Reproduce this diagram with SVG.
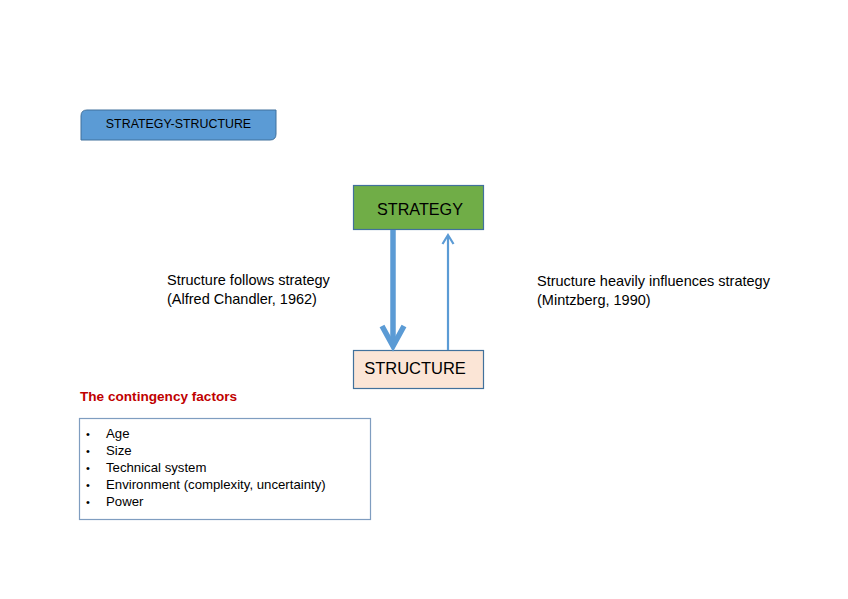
<svg xmlns="http://www.w3.org/2000/svg" width="848" height="599" viewBox="0 0 848 599">
<style>
text{font-family:"Liberation Sans",Arial,sans-serif;fill:#000}
.lbl{font-size:14.5px}
.li{font-size:13.2px}
.box{stroke:#41719C;stroke-width:1.2}
</style>
<rect width="848" height="599" fill="#fff"/>
<g id="title">
<path d="M87,110 H276 V134 Q276,140 270,140 H81 V116 Q81,110 87,110 Z" fill="#5B9BD5" stroke="#41719C" stroke-width="1"/>
<text x="178.5" y="128" text-anchor="middle" font-size="12.4">STRATEGY-STRUCTURE</text>
</g>
<g id="strategy">
<rect class="box" x="353.5" y="185.5" width="130" height="44" fill="#70AD47"/>
<text x="420" y="215" text-anchor="middle" font-size="16.2">STRATEGY</text>
</g>
<g id="structure">
<rect class="box" x="353.5" y="350.5" width="130" height="38" fill="#FBE5D6"/>
<text x="415" y="374" text-anchor="middle" font-size="16.5">STRUCTURE</text>
</g>
<g id="connectors" fill="none" stroke="#5B9BD5" stroke-linecap="butt">
<line x1="393" y1="230" x2="393" y2="342" stroke-width="5.5"/>
<path d="M382,326 L393,346 L404,326" stroke-width="5.5" stroke-linejoin="miter"/>
<line x1="448" y1="350" x2="448" y2="236" stroke-width="2.2"/>
<path d="M442.5,244 L448,235 L453.5,244" stroke-width="2.2"/>
</g>
<g id="labels">
<text class="lbl" x="167" y="285">Structure follows strategy</text>
<text class="lbl" x="167" y="304">(Alfred Chandler, 1962)</text>
<text class="lbl" x="537" y="286">Structure heavily influences strategy</text>
<text class="lbl" x="537" y="305">(Mintzberg, 1990)</text>
</g>
<g id="contingency">
<text x="80" y="401" font-size="13.6" font-weight="bold" style="fill:#C00000">The contingency factors</text>
<rect x="79.5" y="418.5" width="291" height="101" fill="#fff" stroke="#7F9DC0" stroke-width="1.2"/>
<g class="li">
<text x="86" y="438" font-size="11">•</text><text x="106" y="438">Age</text>
<text x="86" y="455" font-size="11">•</text><text x="106" y="455">Size</text>
<text x="86" y="472" font-size="11">•</text><text x="106" y="472">Technical system</text>
<text x="86" y="489" font-size="11">•</text><text x="106" y="489">Environment (complexity, uncertainty)</text>
<text x="86" y="506" font-size="11">•</text><text x="106" y="506">Power</text>
</g>
</g>
</svg>
